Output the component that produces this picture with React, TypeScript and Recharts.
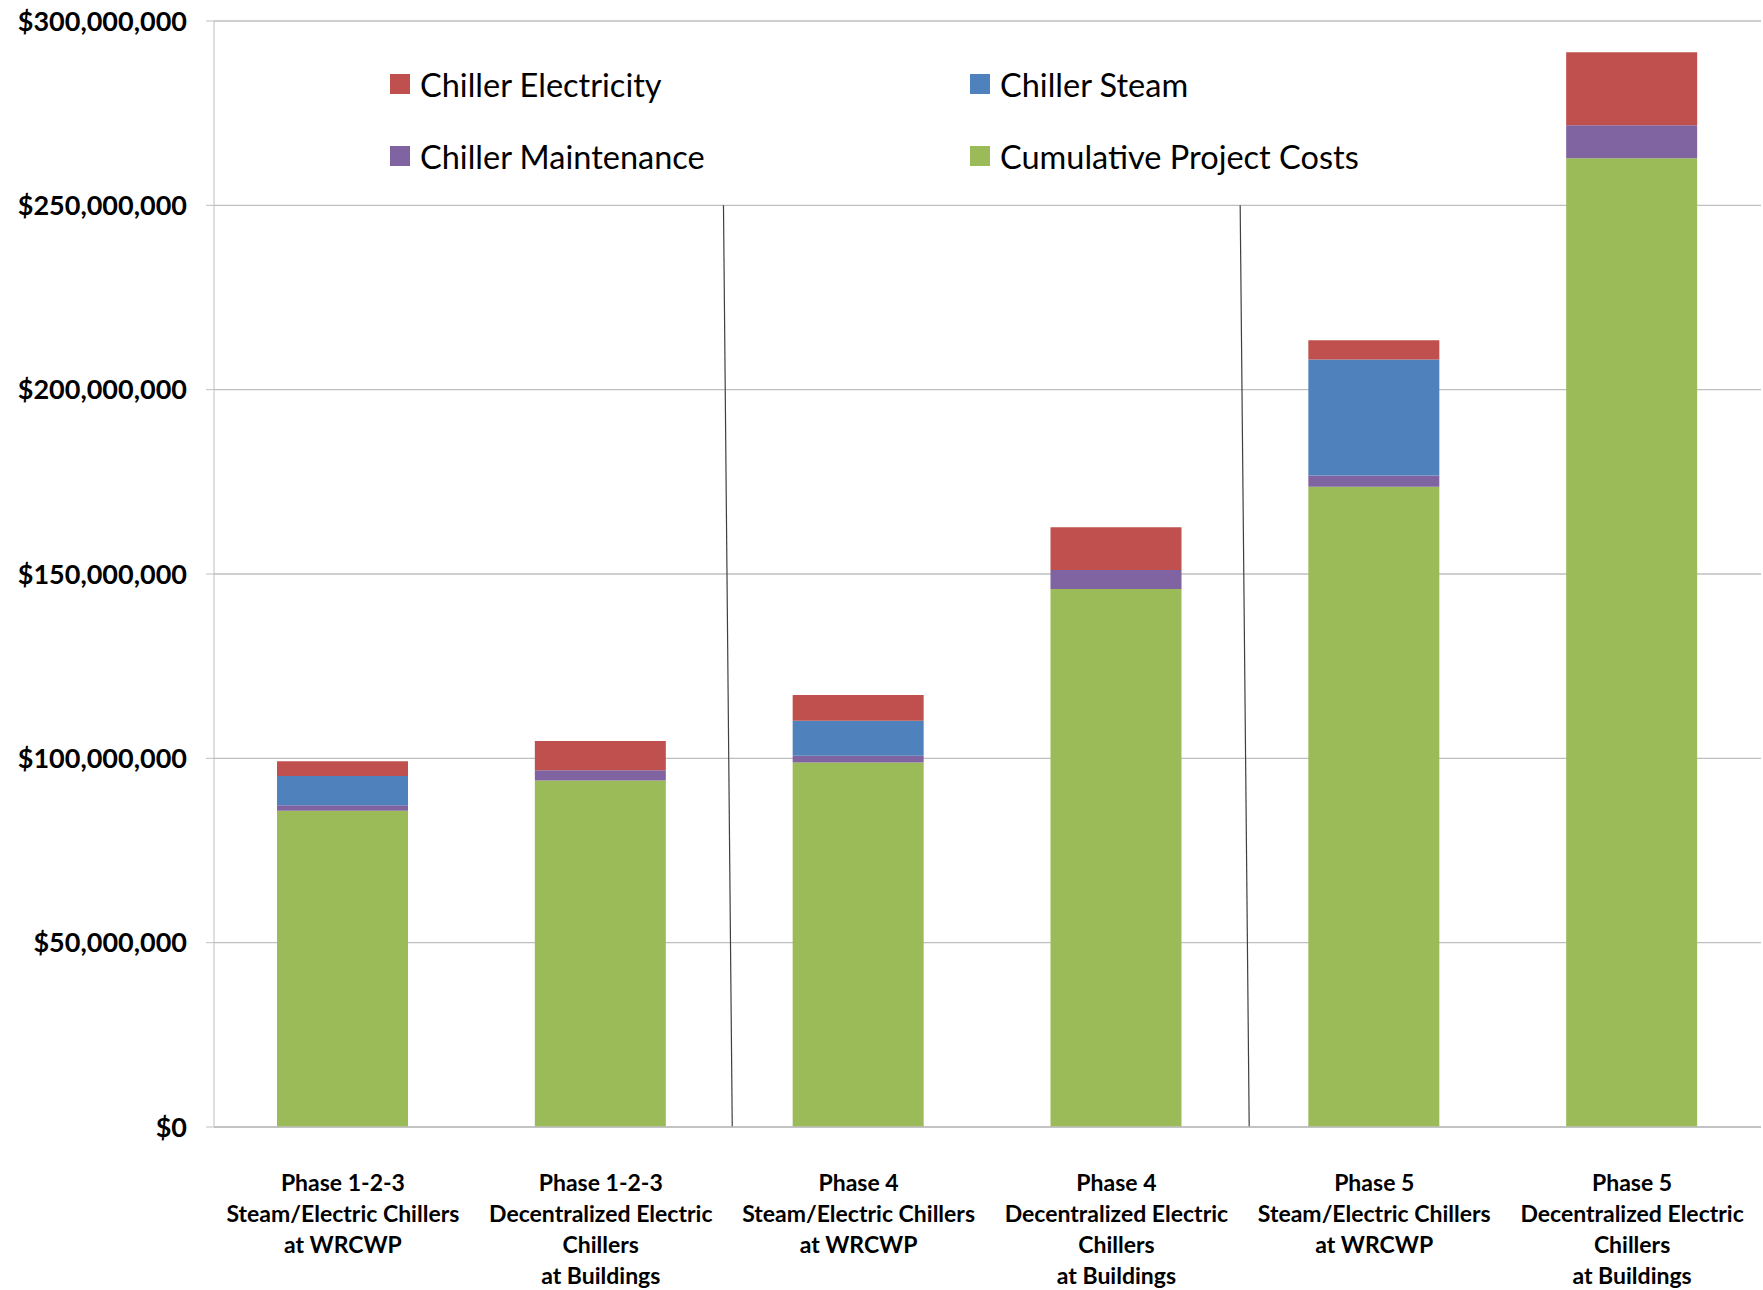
import { BarChart, Bar, XAxis, YAxis, CartesianGrid, ReferenceLine } from 'recharts';

const categoryLabels = [
  ['Phase 1-2-3', 'Steam/Electric Chillers', 'at WRCWP'],
  ['Phase 1-2-3', 'Decentralized Electric', 'Chillers', 'at Buildings'],
  ['Phase 4', 'Steam/Electric Chillers', 'at WRCWP'],
  ['Phase 4', 'Decentralized Electric', 'Chillers', 'at Buildings'],
  ['Phase 5', 'Steam/Electric Chillers', 'at WRCWP'],
  ['Phase 5', 'Decentralized Electric', 'Chillers', 'at Buildings'],
];

const cumulativeProjectCosts = [85800000, 94000000, 98900000, 145900000, 173700000, 262800000];
const chillerMaintenance = [1500000, 2800000, 1800000, 5200000, 3000000, 8900000];
const chillerSteam = [7900000, 0, 9500000, 0, 31500000, 0];
const chillerElectricity = [4000000, 7900000, 7000000, 11600000, 5200000, 19800000];

const yTicks = [0, 50000000, 100000000, 150000000, 200000000, 250000000, 300000000];

// hand-drawn phase separators: between category `after` and the next one,
// top/bottom given in category units (2.0 = boundary after the 2nd bar)
const separators = [
  { after: 1, top: 1.976, bottom: 2.01 },
  { after: 3, top: 3.98, bottom: 4.015 },
];

const legendItems = [
  { name: 'Chiller Electricity', color: '#C0504D' },
  { name: 'Chiller Steam', color: '#4F81BD' },
  { name: 'Chiller Maintenance', color: '#8064A2' },
  { name: 'Cumulative Project Costs', color: '#9BBB59' },
];

const data = categoryLabels.map((_, i) => ({
  cat: String(i),
  cumulative: cumulativeProjectCosts[i],
  maintenance: chillerMaintenance[i],
  steam: chillerSteam[i],
  electricity: chillerElectricity[i],
}));

const money = (v: number) => '$' + v.toLocaleString('en-US');

function CategoryTick(props: any) {
  const { x, y, payload } = props;
  const lines = categoryLabels[Number(payload.value)] || [];
  return (
    <g transform={`translate(${x},${y})`}>
      <text textAnchor="middle" fill="#000" fontSize={23} fontWeight={700} fontFamily="Lato, sans-serif">
        {lines.map((l, i) => (
          <tspan key={i} x={0} y={56 + i * 31.1}>{l}</tspan>
        ))}
      </text>
    </g>
  );
}

// segment endpoints are the centres of two neighbouring bars; place the line between them
const separatorShape = (sep: { after: number; top: number; bottom: number }) => (p: any) => {
  const band = p.x2 - p.x1;
  const at = (v: number) => p.x1 + (v - (sep.after + 0.5)) * band;
  return <line x1={at(sep.top)} y1={p.y1} x2={at(sep.bottom)} y2={p.y2} stroke="#404040" strokeWidth={1.2} />;
};

export default function App() {
  return (
    <div style={{ position: 'absolute', left: 0, top: 0, width: 1763, height: 1290, background: '#fff', fontFamily: 'Lato, sans-serif' }}>
      <BarChart width={1763} height={1290} data={data} margin={{ top: 21, right: 2, left: 0, bottom: 0 }} barSize={131}>
        <CartesianGrid vertical={false} stroke="#BFBFBF" strokeWidth={1.3} />
        <XAxis dataKey="cat" height={163} interval={0} tick={<CategoryTick />} tickLine={false} axisLine={{ stroke: '#BFBFBF', strokeWidth: 1.5 }} />
        <YAxis
          width={214}
          domain={[0, 300000000]}
          ticks={yTicks}
          interval={0}
          tickFormatter={money}
          tick={{ fill: '#000', fontSize: 27, fontWeight: 700, fontFamily: 'Lato, sans-serif' }}
          tickSize={8}
          tickMargin={19}
          stroke="#BFBFBF"
        />
        <Bar dataKey="cumulative" stackId="a" fill="#9BBB59" isAnimationActive={false} />
        <Bar dataKey="maintenance" stackId="a" fill="#8064A2" isAnimationActive={false} />
        <Bar dataKey="steam" stackId="a" fill="#4F81BD" isAnimationActive={false} />
        <Bar dataKey="electricity" stackId="a" fill="#C0504D" isAnimationActive={false} />
        {separators.map((s, i) => (
          <ReferenceLine
            key={i}
            segment={[{ x: String(s.after), y: 250000000 }, { x: String(s.after + 1), y: 0 }]}
            stroke="#404040"
            shape={separatorShape(s)}
          />
        ))}
      </BarChart>
      <div style={{ position: 'absolute', left: 390, top: 66, width: 1000, display: 'grid', gridTemplateColumns: '580px 420px', rowGap: 36 }}>
        {legendItems.map((item) => (
          <div key={item.name} style={{ display: 'flex', alignItems: 'center', height: 36 }}>
            <div style={{ width: 20, height: 20, background: item.color, marginRight: 10 }} />
            <span style={{ fontSize: 32.5, color: '#000' }}>{item.name}</span>
          </div>
        ))}
      </div>
    </div>
  );
}
